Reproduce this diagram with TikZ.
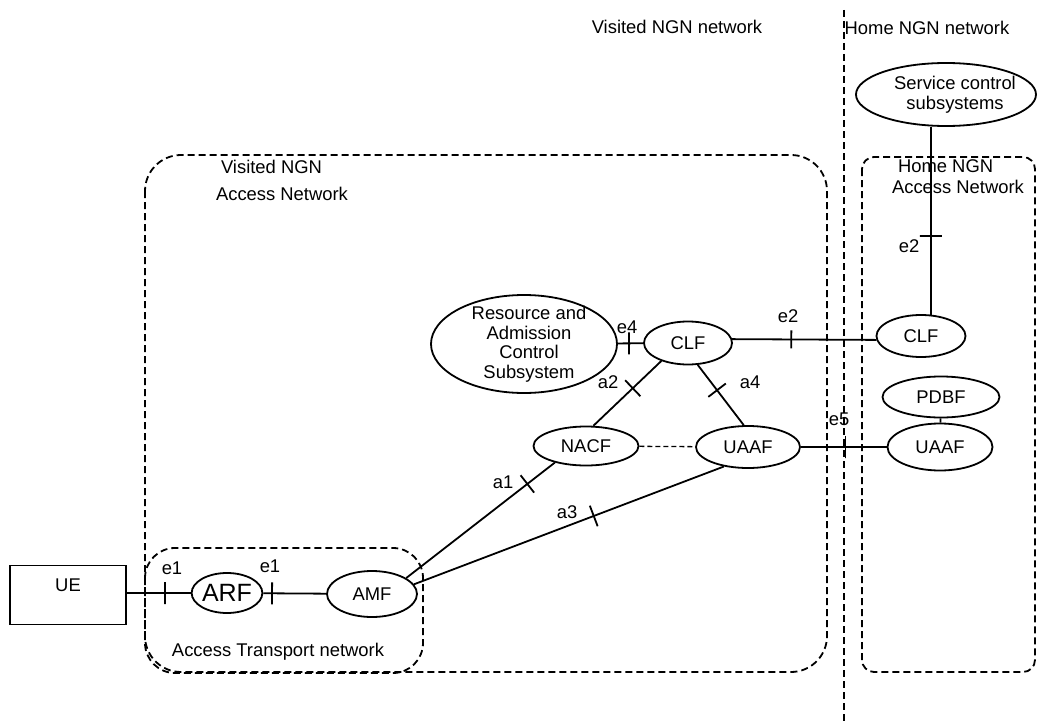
\documentclass[tikz,border=0pt]{standalone}
\usepackage{fontspec}
\setmainfont{Liberation Sans}
\usetikzlibrary{shapes.geometric}

\begin{document}
\begin{tikzpicture}[x=1pt, y=-1pt, line width=1.8pt, font=\fontsize{18.4}{21}\selectfont]
\tikzstyle{fn} = [ellipse, draw=black, inner sep=0pt, text centered]
\tikzstyle{region} = [dash pattern=on 7pt off 4pt, rounded corners=36pt]
\tikzstyle{refbar} = [draw, sloped, inner sep=0pt, minimum width=0pt, minimum height=22pt]
\tikzstyle{lbl} = [inner sep=0pt]

\useasboundingbox (0,0) rectangle (1037,725);

\draw [dash pattern=on 7pt off 4pt] (844,10) -- (844,725);
\draw [region] (145,155) rectangle (827,672);
\draw [region, rounded corners=30pt] (145,548) rectangle (423,673);
\draw [region, rounded corners=12pt] (862,157) rectangle (1035,672);

\node (visitednet) [lbl] at (677,27) {Visited NGN network};
\node (homenet) [lbl] at (927,28) {Home NGN network};
\node (visitedan) [lbl, align=left, font=\fontsize{18.4}{27}\selectfont] at (282,180) {\hspace{5pt}Visited NGN\\Access Network};
\node (homean) [lbl, align=left] at (958,177) {\hspace{6pt}Home NGN\\Access Network};
\node (atn) [lbl] at (278,652) {Access Transport network};

\node (ue) [rectangle, draw, minimum width=116pt, minimum height=59pt, text depth=20pt] at (68,595) {UE};
\node (arf) [fn, minimum width=70pt, minimum height=40pt, font=\fontsize{25}{28}\selectfont] at (227,593) {ARF};
\node (amf) [fn, minimum width=90pt, minimum height=46pt] at (372,594) {AMF};
\node (racs) [fn, minimum width=186pt, minimum height=98pt, label={[align=center, xshift=5pt, font=\fontsize{18.4}{19.5}\selectfont]center:Resource and\\Admission\\Control\\Subsystem}] at (524,344) {};
\node (clf) [fn, minimum width=88pt, minimum height=43pt] at (688,343) {CLF};
\node (nacf) [fn, minimum width=105pt, minimum height=39pt] at (586,446) {NACF};
\node (uaaf) [fn, minimum width=104pt, minimum height=42pt] at (748,447) {UAAF};
\node (svc) [fn, minimum width=180pt, minimum height=63pt, label={[align=center, xshift=9pt, font=\fontsize{18.4}{20}\selectfont]center:Service control\\subsystems}] at (946,94.5) {};
\node (hclf) [fn, minimum width=89pt, minimum height=42pt] at (921,336) {CLF};
\node (pdbf) [fn, minimum width=117pt, minimum height=41pt] at (941,397) {PDBF};
\node (huaaf) [fn, minimum width=105pt, minimum height=47pt] at (940,447) {UAAF};

\draw (ue.east |- arf) -- node[refbar, pos=0.6] {} (arf);
\draw (arf) -- node[refbar, pos=0.14] {} (amf);
\draw (racs) -- node[refbar, pos=0.44] {} (clf);
\draw (clf.5) -- node[refbar, pos=0.41, minimum height=18pt] {} (hclf.185);
\draw (uaaf) -- node[refbar, pos=0.52] {} (huaaf);
\draw (hclf.65 |- svc.south) -- node[refbar, pos=0.58] {} (hclf.65);
\draw (clf.214) -- node[refbar, pos=0.42] {} (nacf.70);
\draw (clf.294) -- node[refbar, pos=0.42] {} (uaaf.101);
\draw (nacf.208) -- node[refbar, pos=0.185] {} (amf.25);
\draw (uaaf.219) -- node[refbar, pos=0.42] {} (amf.13);
\draw [line width=1.3pt, dash pattern=on 5pt off 3pt] (nacf) -- (uaaf);
\draw (pdbf) -- (huaaf);

\node (e1a) [lbl] at (172,568) {e1};
\node (e1b) [lbl] at (270,566) {e1};
\node (e4) [lbl] at (627,327) {e4};
\node (e2a) [lbl] at (788,316) {e2};
\node (e2b) [lbl] at (909,246) {e2};
\node (e5) [lbl] at (839,419) {e5};
\node (a1) [lbl] at (503,482) {a1};
\node (a2) [lbl] at (608,382) {a2};
\node (a3) [lbl] at (567,512) {a3};
\node (a4) [lbl] at (750,382) {a4};
\end{tikzpicture}
\end{document}
